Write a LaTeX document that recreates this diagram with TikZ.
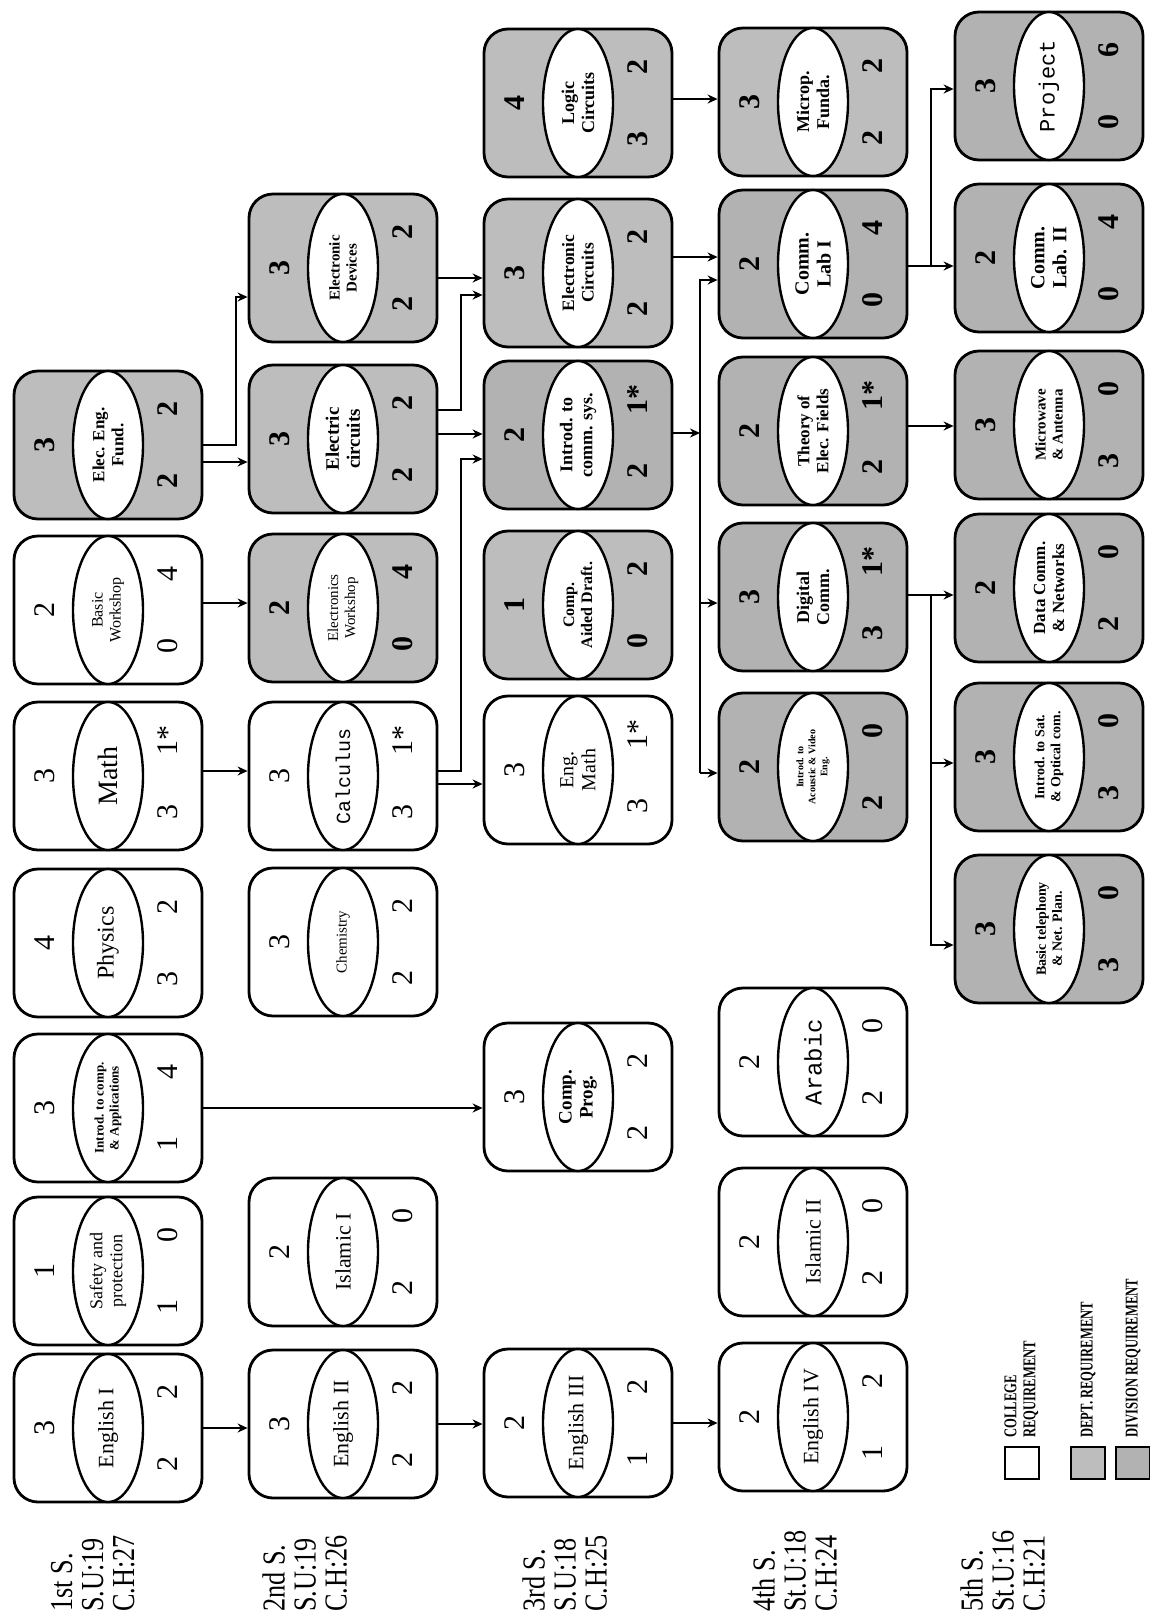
\documentclass[tikz,border=0pt]{standalone}
\usepackage{fontspec}
\setmainfont{Liberation Serif}
\setmonofont{Liberation Mono}
\usepackage{graphicx}
\usetikzlibrary{shapes.geometric,arrows.meta}

\tikzset{
 box/.style={draw, line width=1.4pt, rounded corners=12pt, minimum width=94pt, minimum height=74pt, inner sep=0pt},
 col/.style={fill=white},
 dept/.style={fill=gray!52},
 div/.style={fill=gray!60},
 colnum/.style={},
 deptnum/.style={font=\fontsize{15}{15}\selectfont\bfseries},
 divnum/.style={font=\fontsize{15}{15}\selectfont\bfseries},
 ell/.style={ellipse, draw, line width=1.2pt, fill=white, rotate=90, minimum width=74pt, minimum height=35pt, inner sep=0pt, align=center},
 num/.style={rotate=90, inner sep=0pt, font=\fontsize{15}{15}\selectfont},
 arr/.style={line width=0.8pt, -{Stealth[length=5pt,width=4.5pt]}},
 sem/.style={rotate=90, inner sep=0pt, font=\fontsize{16}{15.5}\selectfont},
 legbox/.style={draw, line width=1pt, minimum width=17pt, minimum height=16pt, inner sep=0pt},
 legtxt/.style={rotate=90, inner sep=0pt, font=\fontsize{9}{9.5}\selectfont\bfseries},
}

\newcommand{\crs}[9]{%
  \node[box,#4] (#1) at (#2,#3) {};
  \node[ell,font={#5}] (#1n) at (#1.center) {#6};
  \node[num,#4num] (#1t) at ([xshift=-31.5pt]#1.center) {#7};
  \node[num,#4num] (#1a) at ([xshift=30pt,yshift=-18pt]#1.center) {#8};
  \node[num,#4num] (#1b) at ([xshift=30pt,yshift=18pt]#1.center) {#9};
}
\newcommand{\semlab}[3]{\scalebox{0.82}[1]{\begin{tabular}{@{}l@{}}#1\\#2\\#3\end{tabular}}}

\begin{document}
\begin{tikzpicture}[x=0.5pt,y=-0.5pt]
\fill[white] (0,0) rectangle (1150,1623);
\useasboundingbox (0,0) rectangle (1150,1623);

% ---- 1st semester
\crs{eef}{108}{445}{dept}{\fontsize{8.5}{9.5}\selectfont\bfseries}{Elec. Eng.\\Fund.}{3}{2}{2}
\crs{bw}{108}{610}{col}{\fontsize{8}{9}\selectfont}{Basic\\Workshop}{2}{0}{4}
\crs{math}{108}{776}{col}{\fontsize{14}{15}\selectfont}{Math}{3}{3}{1*}
\crs{phys}{108}{943}{col}{\fontsize{12}{13}\selectfont}{Physics}{4}{3}{2}
\crs{icomp}{108}{1108}{col}{\fontsize{6.5}{7.5}\selectfont\bfseries}{Introd. to comp.\\\& Applications}{3}{1}{4}
\crs{safe}{108}{1271}{col}{\fontsize{9}{10}\selectfont}{Safety and\\protection}{1}{1}{0}
\crs{eng1}{108}{1428}{col}{\fontsize{11}{12}\selectfont}{English I}{3}{2}{2}

% ---- 2nd semester
\crs{edev}{343}{268}{dept}{\fontsize{7.5}{8.5}\selectfont\bfseries}{Electronic\\Devices}{3}{2}{2}
\crs{ecir}{343}{439}{dept}{\fontsize{9.5}{10.5}\selectfont\bfseries}{Electric\\circuits}{3}{2}{2}
\crs{ews}{343}{608}{dept}{\fontsize{7.5}{8.5}\selectfont}{Electronics\\Workshop}{2}{0}{4}
\crs{calc}{343}{776}{col}{\fontsize{10}{11}\selectfont\ttfamily}{Calculus}{3}{3}{1*}
\crs{chem}{343}{942}{col}{\fontsize{7.5}{8.5}\selectfont}{Chemistry}{3}{2}{2}
\crs{isl1}{343}{1252}{col}{\fontsize{11}{12}\selectfont}{Islamic I}{2}{2}{0}
\crs{eng2}{343}{1424}{col}{\fontsize{11}{12}\selectfont}{English II}{3}{2}{2}

% ---- 3rd semester
\crs{logic}{578}{103}{dept}{\fontsize{9}{10}\selectfont\bfseries}{Logic\\Circuits}{4}{3}{2}
\crs{ecct}{578}{273}{dept}{\fontsize{8.7}{9.7}\selectfont\bfseries}{Electronic\\Circuits}{3}{2}{2}
\crs{icomm}{578}{435}{div}{\fontsize{9}{10}\selectfont\bfseries}{Introd. to\\comm. sys.}{2}{2}{1*}
\crs{cad}{578}{605}{dept}{\fontsize{8}{9}\selectfont\bfseries}{Comp.\\Aided Draft.}{1}{0}{2}
\crs{emath}{578}{770}{col}{\fontsize{10}{11}\selectfont}{Eng.\\Math}{3}{3}{1*}
\crs{cprog}{578}{1097}{col}{\fontsize{9.5}{10.5}\selectfont\bfseries}{Comp.\\Prog.}{3}{2}{2}
\crs{eng3}{578}{1423}{col}{\fontsize{11}{12}\selectfont}{English III}{2}{1}{2}

% ---- 4th semester
\crs{micro}{813}{102}{dept}{\fontsize{9}{10}\selectfont\bfseries}{Microp.\\Funda.}{3}{2}{2}
\crs{clab1}{813}{264}{div}{\fontsize{10}{11}\selectfont\bfseries}{Comm.\\Lab I}{2}{0}{4}
\crs{theory}{813}{431}{div}{\fontsize{8.5}{9.5}\selectfont\bfseries}{Theory of\\Elec. Fields}{2}{2}{1*}
\crs{dig}{813}{597}{div}{\fontsize{9}{10}\selectfont\bfseries}{Digital\\Comm.}{3}{3}{1*}
\crs{iav}{813}{767}{div}{\fontsize{5}{6}\selectfont\bfseries}{Introd. to\\Acoustic \& Video\\Eng.}{2}{2}{0}
\crs{arab}{813}{1062}{col}{\fontsize{12}{13}\selectfont\ttfamily}{Arabic}{2}{2}{0}
\crs{isl2}{813}{1242}{col}{\fontsize{11}{12}\selectfont}{Islamic II}{2}{2}{0}
\crs{eng4}{813}{1417}{col}{\fontsize{11}{12}\selectfont}{English IV}{2}{1}{2}

% ---- 5th semester
\crs{proj}{1049}{86}{div}{\fontsize{11}{12}\selectfont\ttfamily}{Project}{3}{0}{6}
\crs{clab2}{1049}{258}{div}{\fontsize{10}{11}\selectfont\bfseries}{Comm.\\Lab. II}{2}{0}{4}
\crs{mwave}{1049}{425}{div}{\fontsize{7.5}{8.5}\selectfont\bfseries}{Microwave\\\& Antenna}{3}{3}{0}
\crs{dcomm}{1049}{588}{div}{\fontsize{8.5}{9.5}\selectfont\bfseries}{Data Comm.\\\& Networks}{2}{2}{0}
\crs{isat}{1049}{757}{div}{\fontsize{7}{8}\selectfont\bfseries}{Introd. to Sat.\\\& Optical com.}{3}{3}{0}
\crs{btel}{1049}{929}{div}{\fontsize{7}{8}\selectfont\bfseries}{Basic telephony\\\& Net. Plan.}{3}{3}{0}

% ---- lanes
\coordinate (lA) at (236,0);
\coordinate (lB) at (461,0);
\coordinate (bus) at (700,0);
\coordinate (lC) at (931,0);

% ---- connectors
\draw[arr] (eng1.east) -- (eng1.east -| eng2.west);
\draw[arr] (eng2.east) -- (eng2.east -| eng3.west);
\draw[arr] (eng3.east) -- (eng3.east -| eng4.west);
\draw[arr] (icomp.east) -- (icomp.east -| cprog.west);
\draw[arr] ([yshift=2.5pt]math.east) -- ([yshift=2.5pt]math.east -| calc.west);
\draw[arr] ([yshift=3.5pt]bw.east) -- ([yshift=3.5pt]bw.east -| ews.west);
\draw[arr] (eef.east) -- (eef.east -| lA) |- ([yshift=-14.5pt]edev.west);
\draw[arr] ([yshift=-8.5pt]eef.east) -- ([yshift=-8.5pt]eef.east -| ecir.west);
\draw[arr] ([yshift=-5pt]edev.east) -- ([yshift=-5pt]edev.east -| ecct.west);
\draw[arr] ([yshift=14.5pt]ecir.east) -- ([yshift=14.5pt]ecir.east -| lB) |- ([yshift=-11pt]ecct.west);
\draw[arr] ([yshift=2.5pt]ecir.east) -- ([yshift=2.5pt]ecir.east -| icomm.west);
\draw[arr] ([yshift=2.5pt]calc.east) -- ([yshift=2.5pt]calc.east -| lB) |- ([yshift=-12pt]icomm.west);
\draw[arr] ([yshift=-4pt]calc.east) -- ([yshift=-4pt]calc.east -| emath.west);
\draw[arr] ([yshift=2pt]logic.east) -- ([yshift=2pt]logic.east -| micro.west);
\draw[arr] ([yshift=8pt]ecct.east) -- ([yshift=8pt]ecct.east -| clab1.west);
\draw[arr] ([yshift=1pt]icomm.east) -- ([yshift=1pt]icomm.east -| bus);
\draw[arr] ([yshift=-3pt]iav.west -| bus) |- ([yshift=-8pt]clab1.west);
\draw[arr] ([yshift=-3pt]dig.west -| bus) -- ([yshift=-3pt]dig.west);
\draw[arr] ([yshift=-3pt]iav.west -| bus) -- ([yshift=-3pt]iav.west);
\draw[arr] ([yshift=-1pt]clab1.east) -- ([yshift=-1pt]clab1.east -| clab2.west);
\draw[arr] ([yshift=-1pt]clab1.east -| lC) |- ([yshift=-1.5pt]proj.west);
\draw[arr] ([yshift=2.5pt]theory.east) -- ([yshift=2.5pt]theory.east -| mwave.west);
\draw[arr] ([yshift=1pt]dig.east) -- ([yshift=1pt]dig.east -| dcomm.west);
\draw[arr] ([yshift=1pt]dig.east -| lC) |- ([yshift=-8pt]btel.west);
\draw[arr] ([yshift=-3pt]isat.west -| lC) -- ([yshift=-3pt]isat.west);

% ---- semester labels
\node[sem, anchor=north west] (s1) at (50,1612) {\semlab{1st S.}{S.U:19}{C.H:27}};
\node[sem, anchor=north west] (s2) at (262,1612) {\semlab{2nd S.}{S.U:19}{C.H:26}};
\node[sem, anchor=north west] (s3) at (522,1612) {\semlab{3rd S.}{S.U:18}{C.H:25}};
\node[sem, anchor=north west] (s4) at (752,1612) {\semlab{4th S.}{St.U:18}{C.H:24}};
\node[sem, anchor=north west] (s5) at (960,1612) {\semlab{5th S.}{St.U:16}{C.H:21}};

% ---- legend
\node[legbox, fill=white] (lg1) at (1022,1463) {};
\node[legtxt, anchor=west] (lg1t) at ([yshift=4pt]lg1.north) {\scalebox{0.7}[1]{\begin{tabular}{@{}l@{}}COLLEGE\\REQUIREMENT\end{tabular}}};
\node[legbox, fill=gray!52] (lg2) at (1088,1463) {};
\node[legtxt, anchor=west] (lg2t) at ([yshift=4pt]lg2.north) {\scalebox{0.7}[1]{DEPT. REQUIREMENT}};
\node[legbox, fill=gray!60] (lg3) at (1133,1463) {};
\node[legtxt, anchor=west] (lg3t) at ([yshift=4pt]lg3.north) {\scalebox{0.7}[1]{DIVISION REQUIREMENT}};
\end{tikzpicture}
\end{document}
